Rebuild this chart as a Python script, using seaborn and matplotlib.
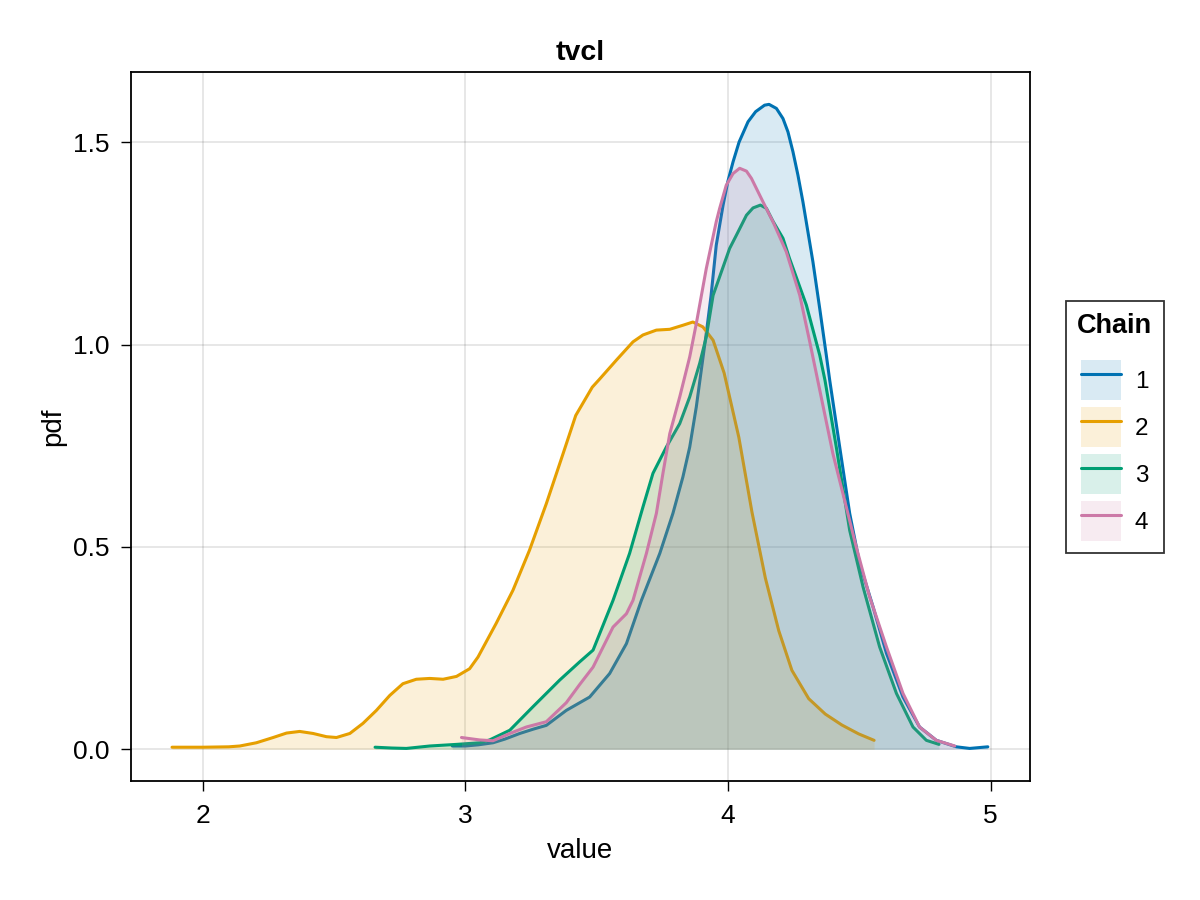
import seaborn as sns
import matplotlib.pyplot as plt
from matplotlib.patches import Patch
from matplotlib.lines import Line2D

# density curves (value, pdf)
chain1_x = [2.95, 3.0, 3.05, 3.105, 3.15, 3.207, 3.26, 3.308, 3.384, 3.473, 3.549, 3.613,
            3.670, 3.740, 3.790, 3.828, 3.854, 3.879, 3.898, 3.917, 3.935, 3.955, 3.981,
            3.999, 4.019, 4.042, 4.076, 4.105, 4.139, 4.156, 4.184, 4.209, 4.228, 4.247,
            4.266, 4.285, 4.304, 4.323, 4.349, 4.374, 4.387, 4.425, 4.463, 4.501, 4.552,
            4.603, 4.666, 4.729, 4.793, 4.869, 4.920, 4.989]
chain1_y = [0.008, 0.008, 0.011, 0.016, 0.025, 0.039, 0.050, 0.059, 0.096, 0.129, 0.187, 0.261,
            0.368, 0.484, 0.583, 0.673, 0.747, 0.846, 0.937, 1.028, 1.120, 1.246, 1.345,
            1.403, 1.452, 1.501, 1.551, 1.576, 1.592, 1.594, 1.584, 1.559, 1.526, 1.477,
            1.419, 1.353, 1.279, 1.205, 1.089, 0.974, 0.912, 0.747, 0.583, 0.459, 0.352,
            0.237, 0.129, 0.055, 0.022, 0.006, 0.002, 0.006]

chain2_x = [1.883, 2.0, 2.099, 2.141, 2.204, 2.268, 2.319, 2.369, 2.420, 2.471, 2.509, 2.560,
            2.610, 2.661, 2.712, 2.762, 2.813, 2.864, 2.915, 2.966, 3.016, 3.048, 3.117,
            3.181, 3.244, 3.308, 3.372, 3.420, 3.483, 3.511, 3.575, 3.638, 3.676, 3.727,
            3.778, 3.828, 3.866, 3.904, 3.943, 3.985, 4.041, 4.091, 4.142, 4.193, 4.243,
            4.307, 4.370, 4.433, 4.497, 4.556]
chain2_y = [0.005, 0.005, 0.006, 0.008, 0.016, 0.029, 0.040, 0.044, 0.039, 0.031, 0.029, 0.039,
            0.064, 0.096, 0.133, 0.162, 0.173, 0.175, 0.173, 0.180, 0.199, 0.228, 0.311,
            0.393, 0.492, 0.607, 0.731, 0.825, 0.895, 0.915, 0.962, 1.007, 1.024, 1.036,
            1.038, 1.048, 1.056, 1.044, 1.011, 0.930, 0.771, 0.586, 0.423, 0.293, 0.195,
            0.125, 0.087, 0.060, 0.038, 0.022]

chain3_x = [2.656, 2.72, 2.775, 2.864, 2.966, 3.054, 3.092, 3.169, 3.257, 3.359, 3.435, 3.486,
            3.562, 3.625, 3.676, 3.714, 3.765, 3.816, 3.854, 3.892, 3.917, 3.943, 4.006,
            4.032, 4.070, 4.095, 4.123, 4.146, 4.171, 4.209, 4.234, 4.298, 4.349, 4.369,
            4.412, 4.463, 4.514, 4.577, 4.641, 4.704, 4.755, 4.803]
chain3_y = [0.005, 0.003, 0.002, 0.008, 0.012, 0.016, 0.023, 0.047, 0.105, 0.171, 0.216, 0.245,
            0.368, 0.484, 0.599, 0.682, 0.747, 0.805, 0.871, 0.954, 1.019, 1.122, 1.238,
            1.271, 1.320, 1.338, 1.345, 1.337, 1.305, 1.263, 1.213, 1.098, 0.974, 0.912,
            0.747, 0.541, 0.401, 0.253, 0.138, 0.055, 0.022, 0.012]

chain4_x = [2.985, 3.054, 3.105, 3.169, 3.232, 3.308, 3.384, 3.435, 3.486, 3.562, 3.613, 3.638,
            3.689, 3.727, 3.752, 3.778, 3.816, 3.854, 3.879, 3.917, 3.955, 3.968, 3.993,
            4.019, 4.044, 4.070, 4.089, 4.133, 4.171, 4.222, 4.273, 4.311, 4.349, 4.399,
            4.450, 4.488, 4.539, 4.603, 4.666, 4.729, 4.793, 4.863]
chain4_y = [0.029, 0.023, 0.021, 0.039, 0.055, 0.068, 0.115, 0.160, 0.203, 0.302, 0.335, 0.368,
            0.484, 0.583, 0.682, 0.780, 0.871, 0.970, 1.052, 1.188, 1.304, 1.337, 1.394,
            1.423, 1.436, 1.429, 1.411, 1.353, 1.304, 1.229, 1.122, 1.007, 0.888, 0.731,
            0.599, 0.500, 0.377, 0.253, 0.138, 0.055, 0.022, 0.008]

chain_names = ['1', '2', '3', '4']
chain_colors = ['#0072B2', '#E69F00', '#009E73', '#CC79A7']

sns.set_style('white')
plt.rcParams['font.family'] = ['Liberation Sans', 'DejaVu Sans']
plt.rcParams['text.color'] = 'black'
plt.rcParams['axes.labelcolor'] = 'black'
plt.rcParams['xtick.color'] = 'black'
plt.rcParams['ytick.color'] = 'black'

fig = plt.figure(figsize=(12, 9), dpi=100)
ax = fig.add_axes([0.109, 0.132, 0.749, 0.788])

curves = [(chain1_x, chain1_y), (chain2_x, chain2_y), (chain3_x, chain3_y), (chain4_x, chain4_y)]
for i, ((xs, ys), color) in enumerate(zip(curves, chain_colors)):
    # each chain: light fill first, then its line, stacked in chain order
    ax.fill_between(xs, 0, ys, color=color, alpha=0.15, linewidth=0, zorder=2 * i + 1)
    sns.lineplot(x=xs, y=ys, color=color, linewidth=2.2, ax=ax, zorder=2 * i + 2)

ax.set_xlim(1.726, 5.148)
ax.set_ylim(-0.079, 1.674)
ax.set_xticks([2, 3, 4, 5])
ax.set_yticks([0.0, 0.5, 1.0, 1.5])
ax.set_axisbelow(True)
ax.grid(True, color='black', alpha=0.12, linewidth=1.1)
for spine in ax.spines.values():
    spine.set_color('black')
    spine.set_linewidth(1.3)
ax.tick_params(bottom=True, left=True, direction='out', length=7.5, width=1.0, labelsize=19)
ax.tick_params(axis='x', pad=9)
ax.tick_params(axis='y', pad=7.5)

ax.set_xlabel('value', fontsize=20, labelpad=7)
ax.set_ylabel('pdf', fontsize=20, labelpad=5)
ax.set_title('tvcl', fontsize=20.5, fontweight='bold', pad=9)

# legend: light filled box with the line through it
handles = [(Patch(facecolor=c, alpha=0.15, edgecolor='none'), Line2D([], [], color=c, linewidth=2.2))
           for c in chain_colors]
leg = fig.legend(handles, chain_names, title='Chain', loc='center left',
                 bbox_to_anchor=(0.888, 0.5256), borderaxespad=0, fontsize=17.5, frameon=True,
                 fancybox=False, edgecolor='black', handlelength=1.65, handleheight=2.15,
                 labelspacing=0.29, handletextpad=0.55, borderpad=0.48)
leg.get_title().set_fontweight('bold')
leg.get_title().set_fontsize(19.5)
leg.get_frame().set_linewidth(1.3)
# more room between the title and the entries
leg._legend_box.sep = 15.5

fig.savefig('out.png', dpi=100)
